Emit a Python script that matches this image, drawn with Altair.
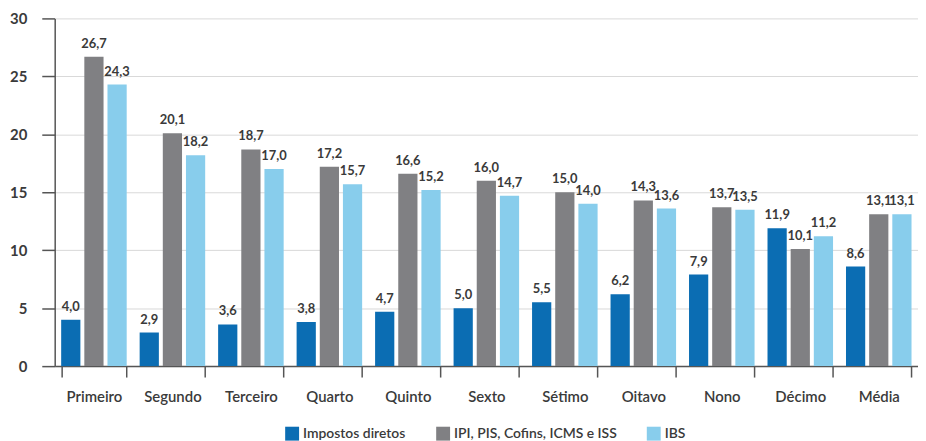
import altair as alt
import pandas as pd

categorias = ["Primeiro", "Segundo", "Terceiro", "Quarto", "Quinto", "Sexto",
              "Sétimo", "Oitavo", "Nono", "Décimo", "Média"]
series = ["Impostos diretos", "IPI, PIS, Cofins, ICMS e ISS", "IBS"]
impostos_diretos = [4.0, 2.9, 3.6, 3.8, 4.7, 5.0, 5.5, 6.2, 7.9, 11.9, 8.6]
ipi_pis = [26.7, 20.1, 18.7, 17.2, 16.6, 16.0, 15.0, 14.3, 13.7, 10.1, 13.1]
ibs = [24.3, 18.2, 17.0, 15.7, 15.2, 14.7, 14.0, 13.6, 13.5, 11.2, 13.1]
cores = ["#0b6db3", "#808083", "#88cdec"]

rows = []
for serie, vals in zip(series, [impostos_diretos, ipi_pis, ibs]):
    for c, v in zip(categorias, vals):
        rows.append({"cat": c, "serie": serie, "valor": v,
                     "rotulo": f"{v:.1f}".replace(".", ",")})
df = pd.DataFrame(rows)

FONT = "Lato"
TXT = "#3a3a3a"

x = alt.X("cat:N", sort=categorias, title=None,
          scale=alt.Scale(paddingInner=0.165, paddingOuter=0.0825),
          axis=alt.Axis(labelAngle=0, tickBand="extent", tickSize=11,
                        domainColor="#555555", tickColor="#555555",
                        labelPadding=13, labelFontSize=15, labelColor=TXT,
                        labelFontWeight=600,
                        labelFont=FONT, domainWidth=1.5, tickWidth=1.5))
xo = alt.XOffset("serie:N", sort=series,
                 scale=alt.Scale(paddingInner=0.17))
y = alt.Y("valor:Q", title=None,
          scale=alt.Scale(domain=[0, 30]),
          axis=alt.Axis(values=[0, 5, 10, 15, 20, 25, 30], tickSize=13,
                        domainColor="#555555", tickColor="#555555",
                        gridColor="#d9d9d9", labelPadding=15, labelFontSize=15,
                        labelColor=TXT, labelFont=FONT, labelFontWeight="bold",
                        domainWidth=1.5, tickWidth=1.5))
color = alt.Color("serie:N", sort=series,
                  scale=alt.Scale(domain=series, range=cores),
                  legend=alt.Legend(title=None, orient="none", direction="horizontal",
                                    legendX=232, legendY=411, symbolType="square",
                                    symbolSize=196, symbolStrokeWidth=0,
                                    labelFontSize=14, labelFont=FONT,
                                    labelFontWeight=600, labelLimit=0,
                                    labelColor=TXT, columnPadding=30,
                                    symbolOpacity=1))

base = alt.Chart(df).encode(x=x, xOffset=xo, y=y)
bars = base.mark_bar().encode(color=color)
labels = base.mark_text(baseline="bottom", dy=-6, fontSize=13, font=FONT,
                        fontWeight="bold", color=TXT).encode(text="rotulo:N")

chart = (bars + labels).properties(
    width=869, height=350,
    autosize=alt.AutoSizeParams(type="none"),
    padding={"left": 47, "top": 9, "right": 0, "bottom": 90},
).configure_view(stroke=None)

chart.save("out.html", embed_options={"renderer": "svg", "actions": False})
